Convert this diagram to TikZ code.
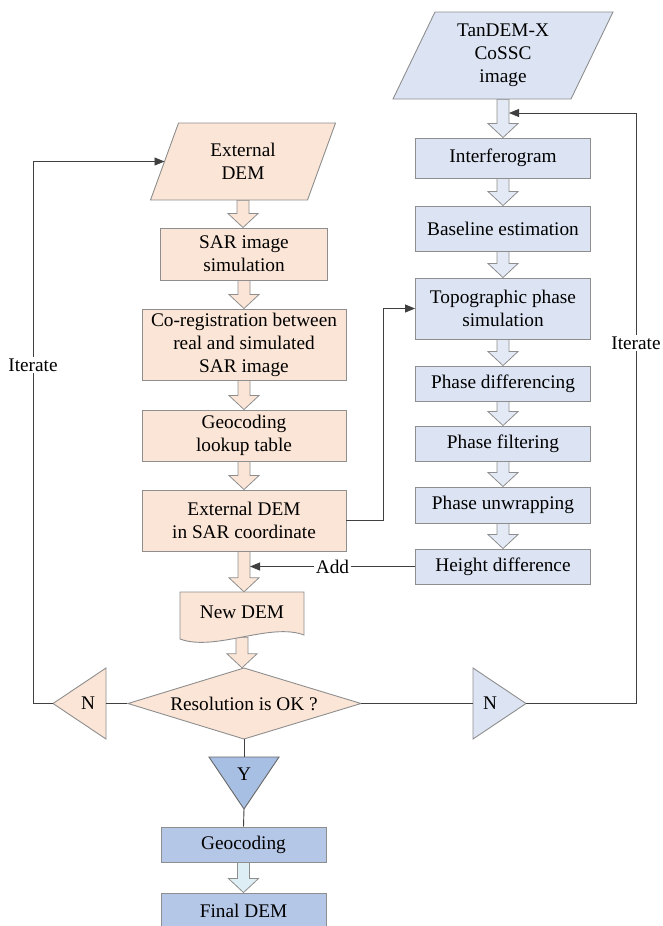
\documentclass[tikz,border=0pt]{standalone}
\usepackage{fontspec}
\setmainfont{Liberation Serif}
\usetikzlibrary{calc,arrows.meta}
\definecolor{peach}{HTML}{FBE5D6}
\definecolor{lblue}{HTML}{DCE4F3}
\definecolor{lbluearr}{HTML}{E4EAF5}
\definecolor{dblue}{HTML}{B4C7E7}
\definecolor{ydblue}{HTML}{A8BFE4}
\definecolor{bord}{HTML}{8E8E8E}
\definecolor{cyanarr}{HTML}{DDEEF4}
\definecolor{lineclr}{HTML}{404040}
\pgfdeclarelayer{bg}
\pgfsetlayers{bg,main}
\newcommand{\blockarr}[3]{%
  \path[draw=bord, line width=0.8pt, fill=#1] let \p1=(#2), \p2=(#3) in
  (\x1-6pt,\y1) -- (\x1+6pt,\y1) -- (\x1+6pt,\y2+14pt) -- (\x1+15pt,\y2+14pt)
  -- (\x1,\y2) -- (\x1-15pt,\y2+14pt) -- (\x1-6pt,\y2+14pt) -- cycle;}
\begin{document}
\begin{tikzpicture}[x=1pt,y=-1pt, font=\fontsize{19.3}{23}\selectfont,
  shp/.style={draw=bord, line width=0.9pt},
  box/.style={shp, align=center, inner sep=0pt},
  pbox/.style={box, fill=peach},
  bbox/.style={box, fill=lblue},
  dbox/.style={box, fill=dblue},
  txt/.style={align=center, inner sep=0pt},
  conn/.style={draw=lineclr, line width=0.9pt},
  arr/.style={conn, -{Triangle[length=10pt,width=8pt]}},
  lbl/.style={fill=white, inner sep=1.5pt}
]
\useasboundingbox (0,0) rectangle (662,926);

% ---------- right column ----------
\path[shp, fill=lblue] (435,12) -- (613,12) -- (571,99) -- (393,99) -- cycle;
\node[txt, minimum width=178pt, minimum height=87pt] (tandem) at (503,55.5) {TanDEM-X\\CoSSC\\image};
\node[bbox, minimum width=175pt, minimum height=40pt] (interf) at (503,158) {Interferogram};
\node[bbox, minimum width=175pt, minimum height=45pt] (base) at (503,228.5) {Baseline estimation};
\node[bbox, minimum width=175pt, minimum height=61pt] (topo) at (503,308.5) {Topographic phase\\simulation};
\node[bbox, minimum width=175pt, minimum height=35pt] (diff) at (503,383.5) {Phase differencing};
\node[bbox, minimum width=175pt, minimum height=35pt] (filt) at (503,443.5) {Phase filtering};
\node[bbox, minimum width=175pt, minimum height=36pt] (unwr) at (503,505) {Phase unwrapping};
\node[bbox, minimum width=175pt, minimum height=35pt] (hdiff) at (503,566.5) {Height difference};

% ---------- left column ----------
\coordinate (extTL) at (178.5,123);
\coordinate (extBL) at (150.5,200);
\path[shp, fill=peach] (extTL) -- (335.5,123) -- (307.5,200) -- (extBL) -- cycle;
\node[txt, minimum width=157pt, minimum height=77pt] (extdem) at (243,161.5) {External\\DEM};
\node[pbox, minimum width=167pt, minimum height=52pt] (sarsim) at (244,254) {SAR image\\simulation};
\node[pbox, minimum width=204pt, minimum height=71pt] (coreg) at (244,344.5) {Co-registration between\\real and simulated\\SAR image};
\node[pbox, minimum width=204pt, minimum height=51pt] (geolut) at (244,435.5) {Geocoding\\lookup table};
\node[pbox, minimum width=204pt, minimum height=61pt] (extsar) at (244,520.5) {External DEM\\in SAR coordinate};

\path[shp, fill=peach] (180,592) -- (304,592) -- (304,635)
  .. controls (270,622) and (215,652) .. (180,639) -- cycle;
\node[txt, minimum width=124pt, minimum height=45pt] (newdem) at (242,614.5) {};
\node[txt] at (242,612) {New DEM};

% decision
\path[shp, fill=peach] (128,703.5) -- (244,668) -- (361,703.5) -- (244,739) -- cycle;
\node[txt, minimum width=233pt, minimum height=71pt] (dia) at (244,703.5) {Resolution is OK ?};

% N / Y triangles
\coordinate (nlB) at (106,703.5);
\coordinate (nlT) at (53,703.5);
\path[shp, fill=peach] (106,668) -- (106,739) -- (nlT) -- cycle;
\node[txt] (nl) at (88,703.5) {N};
\coordinate (nrB) at (473,703.5);
\coordinate (nrT) at (526,703.5);
\path[shp, fill=lblue] (473,668) -- (473,739) -- (nrT) -- cycle;
\node[txt] (nr) at (490,703.5) {N};
\coordinate (yTop) at (244,757);
\coordinate (yTip) at (244,809);
\path[shp, draw=gray!80!black, fill=ydblue] (209,757) -- (279,757) -- (yTip) -- cycle;
\node[txt] (ynode) at (244,774) {Y};

\node[dbox, minimum width=165pt, minimum height=35pt] (geocod) at (243.5,844.5) {Geocoding};
\node[dbox, minimum width=165pt, minimum height=36pt] (final) at (243.5,911) {Final DEM};

% ---------- block arrows ----------
\begin{pgfonlayer}{bg}
\blockarr{lbluearr}{tandem.south}{interf.north}
\blockarr{lbluearr}{interf.south}{base.north}
\blockarr{lbluearr}{base.south}{topo.north}
\blockarr{lbluearr}{topo.south}{diff.north}
\blockarr{lbluearr}{diff.south}{filt.north}
\blockarr{lbluearr}{filt.south}{unwr.north}
\blockarr{lbluearr}{unwr.south}{hdiff.north}
\blockarr{peach}{extdem.south}{sarsim.north}
\blockarr{peach}{sarsim.south}{coreg.north}
\blockarr{peach}{coreg.south}{geolut.north}
\blockarr{peach}{geolut.south}{extsar.north}
\blockarr{peach}{extsar.south}{newdem.north}
\blockarr{peach}{newdem.south}{dia.north}
\blockarr{cyanarr}{geocod.south}{final.north}
\end{pgfonlayer}

% ---------- connectors ----------
\coordinate (extL) at ($(extTL)!0.5!(extBL)$);
\coordinate (lcorner) at (33,703.5);
\coordinate (rcorner) at (636,703.5);
\coordinate (tanShaft) at (509,113);
\coordinate (addT) at (250,566.5);
\coordinate (tcorner) at (383,520.5);

\draw[conn] (dia.west) -- (nlB);
\draw[arr] (nlT) -- (lcorner) |- (extL);
\draw[conn] (dia.east) -- (nrB);
\draw[arr] (nrT) -- (rcorner) |- (tanShaft);
\draw[arr] (extsar.east) -- (tcorner) |- (topo.west);
\draw[arr] (hdiff.west) -- node[lbl] {Add} (addT);
\draw[conn] (dia.south) -- (yTop);
\draw[conn] (yTip) -- (geocod.north);

\node[lbl] at (33,365) {Iterate};
\node[lbl] at (636,343) {Iterate};
\end{tikzpicture}
\end{document}
